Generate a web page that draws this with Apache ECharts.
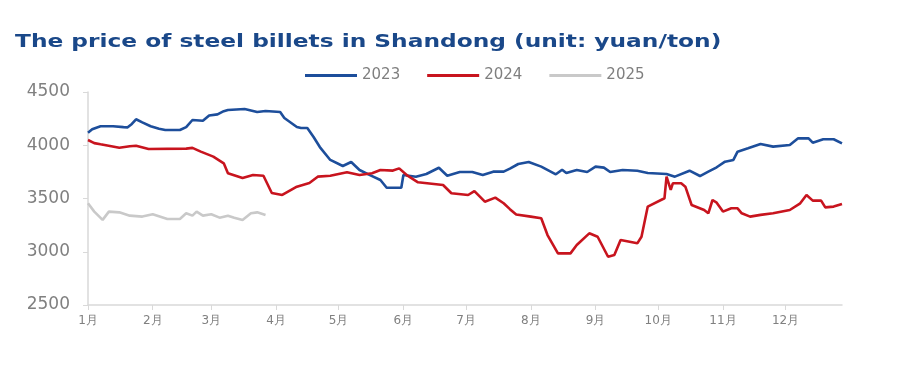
<!DOCTYPE html>
<html><head><meta charset="utf-8">
<script src="https://cdn.jsdelivr.net/npm/echarts@6/dist/echarts.min.js"></script>
<style>html,body{margin:0;padding:0;background:#fff}#c{width:900px;height:383px}</style>
</head><body><div id="c"></div>
<script>
const titleText = 'The price of steel billets in Shandong (unit: yuan/ton)';
const monthStarts = [0,31,59,90,120,151,181,212,243,273,304,334];
const monthLabels = ['1月','2月','3月','4月','5月','6月','7月','8月','9月','10月','11月','12月'];
const yTicks = [2500,3000,3500,4000,4500];
const seriesNames = ['2023','2024','2025'];
// [day of year, price]
const s2023 = [[0,4118],[2,4150],[4,4165],[6,4178],[12,4178],[17,4170],[19,4168],[21,4200],[23,4244],[26,4215],[30,4178],[34,4155],[37,4143],[44,4143],[47,4170],[50,4237],[55,4230],[58,4280],[62,4290],[65,4320],[67,4331],[75,4340],[81,4312],[85,4322],[92,4312],[94,4256],[98,4200],[100,4171],[102,4162],[105,4162],[108,4077],[111,3983],[116,3862],[122,3805],[126,3843],[130,3768],[135,3720],[140,3674],[143,3601],[150,3601],[151,3720],[157,3705],[162,3730],[168,3789],[172,3714],[178,3749],[184,3749],[189,3720],[194,3752],[199,3752],[202,3780],[206,3824],[211,3843],[217,3799],[224,3727],[227,3770],[229,3740],[234,3768],[239,3749],[243,3799],[247,3790],[250,3749],[256,3768],[263,3760],[268,3740],[277,3730],[281,3705],[288,3761],[293,3711],[297,3752],[301,3793],[305,3846],[309,3862],[311,3940],[316,3971],[322,4012],[328,3987],[336,4002],[340,4065],[345,4065],[347,4024],[352,4056],[357,4056],[361,4018]];
const s2024 = [[0,4049],[3,4020],[6,4009],[15,3977],[20,3990],[23,3996],[29,3965],[47,3968],[50,3975],[54,3940],[60,3893],[65,3830],[67,3737],[74,3692],[79,3720],[84,3714],[88,3552],[93,3533],[100,3611],[106,3646],[110,3705],[116,3714],[124,3746],[130,3720],[136,3737],[140,3768],[146,3762],[149,3783],[153,3714],[158,3652],[170,3627],[174,3549],[182,3533],[185,3570],[190,3470],[195,3508],[199,3455],[202,3400],[205,3350],[212,3330],[217,3314],[220,3157],[225,2985],[231,2985],[234,3063],[240,3173],[244,3141],[249,2953],[252,2969],[255,3110],[263,3079],[265,3141],[268,3424],[276,3502],[277,3705],[279,3580],[280,3643],[284,3643],[286,3611],[289,3439],[295,3392],[297,3361],[299,3486],[301,3461],[304,3377],[308,3408],[311,3408],[313,3361],[317,3330],[322,3346],[328,3361],[336,3392],[341,3455],[344,3533],[347,3480],[351,3480],[353,3417],[357,3424],[361,3449]];
const s2025 = [[0,3455],[3,3377],[7,3299],[10,3377],[15,3370],[20,3339],[26,3330],[31,3352],[38,3308],[44,3308],[47,3361],[50,3339],[52,3377],[55,3339],[59,3352],[63,3320],[67,3339],[70,3320],[74,3299],[78,3361],[81,3370],[85,3346]];
const colors = ['#1d4e9b','#c8141e','#c9c9c9'];

const chart = echarts.init(document.getElementById('c'));
chart.setOption({
  animation:false,
  graphic:[{type:'text',x:15,y:34,scaleX:1.37,
    style:{text:titleText,font:'bold 17px "DejaVu Sans"',fill:'#1a4889'}}],
  legend:{top:63,left:300,itemWidth:52,itemHeight:3,itemGap:27,icon:'rect',
    textStyle:{fontFamily:'DejaVu Sans',fontSize:15,color:'#7f7f7f'},
    data:seriesNames},
  grid:{left:88,right:58,top:92,bottom:78},
  xAxis:{type:'value',min:0,max:361,
    axisLine:{lineStyle:{color:'#d9d9d9',width:1.5}},
    axisTick:{show:true,length:5,lineStyle:{color:'#d9d9d9'},customValues:monthStarts},
    axisLabel:{customValues:monthStarts,color:'#808080',fontFamily:'DejaVu Sans',fontSize:12,margin:10,
      formatter:v=>monthLabels[monthStarts.indexOf(v)]||''},
    splitLine:{show:false}},
  yAxis:{type:'value',min:yTicks[0],max:yTicks[yTicks.length-1],interval:500,
    axisLine:{show:true,lineStyle:{color:'#d9d9d9',width:1.5}},
    axisTick:{show:true,length:5,lineStyle:{color:'#d9d9d9'}},
    axisLabel:{color:'#808080',fontFamily:'DejaVu Sans',fontSize:17,margin:18,formatter:v=>String(v)},
    splitLine:{show:false}},
  series:[s2023,s2024,s2025].map((d,i)=>({name:seriesNames[i],type:'line',data:d,showSymbol:false,
    lineStyle:{width:2.6,color:colors[i]},itemStyle:{color:colors[i]}}))
});
</script></body></html>
